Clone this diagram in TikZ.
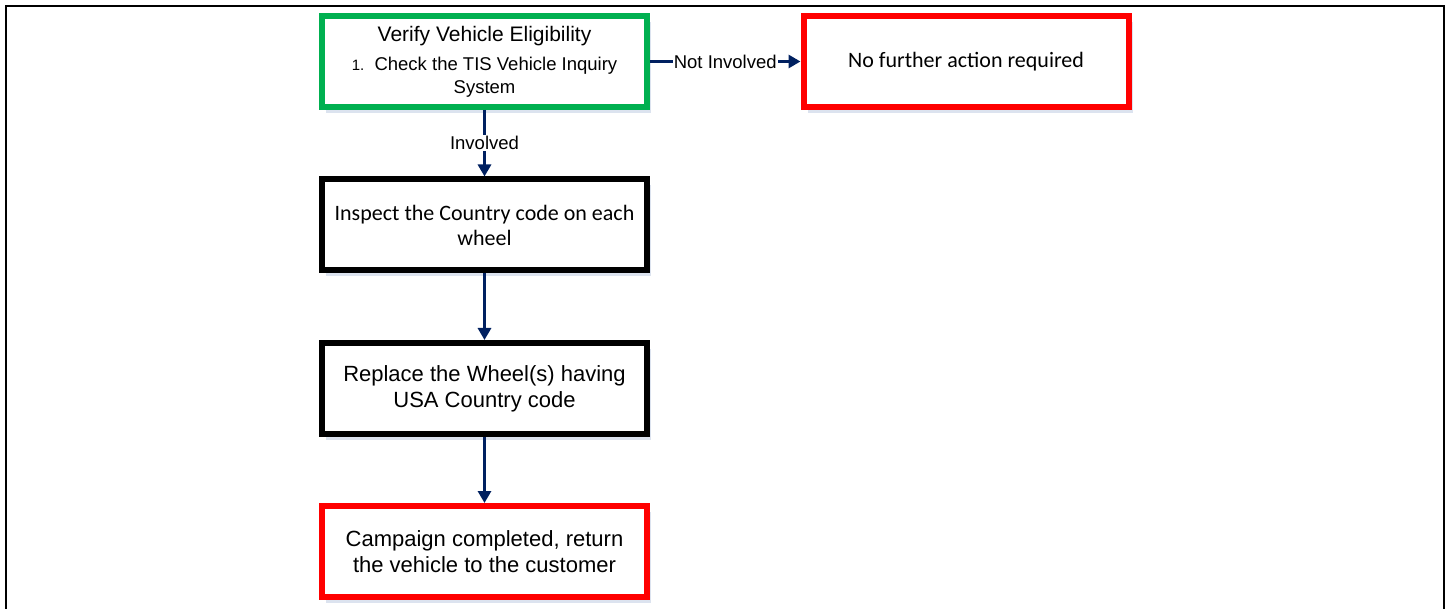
\documentclass[tikz,border=0pt]{standalone}
\usepackage{fontspec}
\setmainfont{Liberation Sans}
\newfontfamily\calibri{Carlito}
\usepackage{tikz}
\usetikzlibrary{arrows.meta,shapes,shadows}
\definecolor{flowgreen}{RGB}{0,176,80}
\definecolor{flowred}{RGB}{255,0,0}
\definecolor{flownavy}{RGB}{0,32,96}
\definecolor{shadowblue}{RGB}{196,208,228}

\begin{document}
\begin{tikzpicture}[x=1pt,y=-1pt,
    box/.style={draw, line width=6pt, fill=white, minimum width=325pt, minimum height=91pt,
      align=center, inner sep=2pt,
      drop shadow={shadow xshift=4pt, shadow yshift=-6pt, fill=shadowblue, opacity=0.6}},
    startbox/.style={box, draw=flowgreen},
    stopbox/.style={box, draw=flowred},
    taskbox/.style={box, draw=black},
    flow/.style={draw=flownavy, line width=3pt, -{Triangle[length=12pt,width=13pt]}},
    flowlabel/.style={fill=white, inner sep=1pt, font=\fontsize{18.5}{22}\selectfont}]
      \useasboundingbox (0,0) rectangle (1449,609);
      \draw[line width=2.5pt] (6,609) -- (6,6) -- (1444,6) -- (1444,609);
      \node[startbox, font=\fontsize{18.5}{23}\selectfont] (verify) at (484.5,61.5)
        {{\fontsize{21}{23}\selectfont Verify Vehicle Eligibility}\\[6pt]
        {\fontsize{15}{23}\selectfont 1.}\ \ Check the TIS Vehicle Inquiry\\System};
      \node[stopbox, font=\calibri\fontsize{22}{26}\selectfont] (none) at (966,61.5) {No further action required};
      \node[taskbox, font=\calibri\fontsize{22}{25}\selectfont] (inspect) at (484.5,225) {Inspect the Country code on each\\wheel};
      \node[taskbox, font=\fontsize{22}{26}\selectfont] (replace) at (484.5,388.5) {Replace the Wheel(s) having\\USA Country code};
      \node[stopbox, font=\fontsize{22}{26}\selectfont] (done) at (484.5,551.5) {Campaign completed, return\\the vehicle to the customer};
      \draw[flow] (verify) -- node[flowlabel] {Not Involved} (none);
      \draw[flow] (verify) -- node[flowlabel] {Involved} (inspect);
      \draw[flow] (inspect) -- (replace);
      \draw[flow] (replace) -- (done);
    \end{tikzpicture}
\end{document}
